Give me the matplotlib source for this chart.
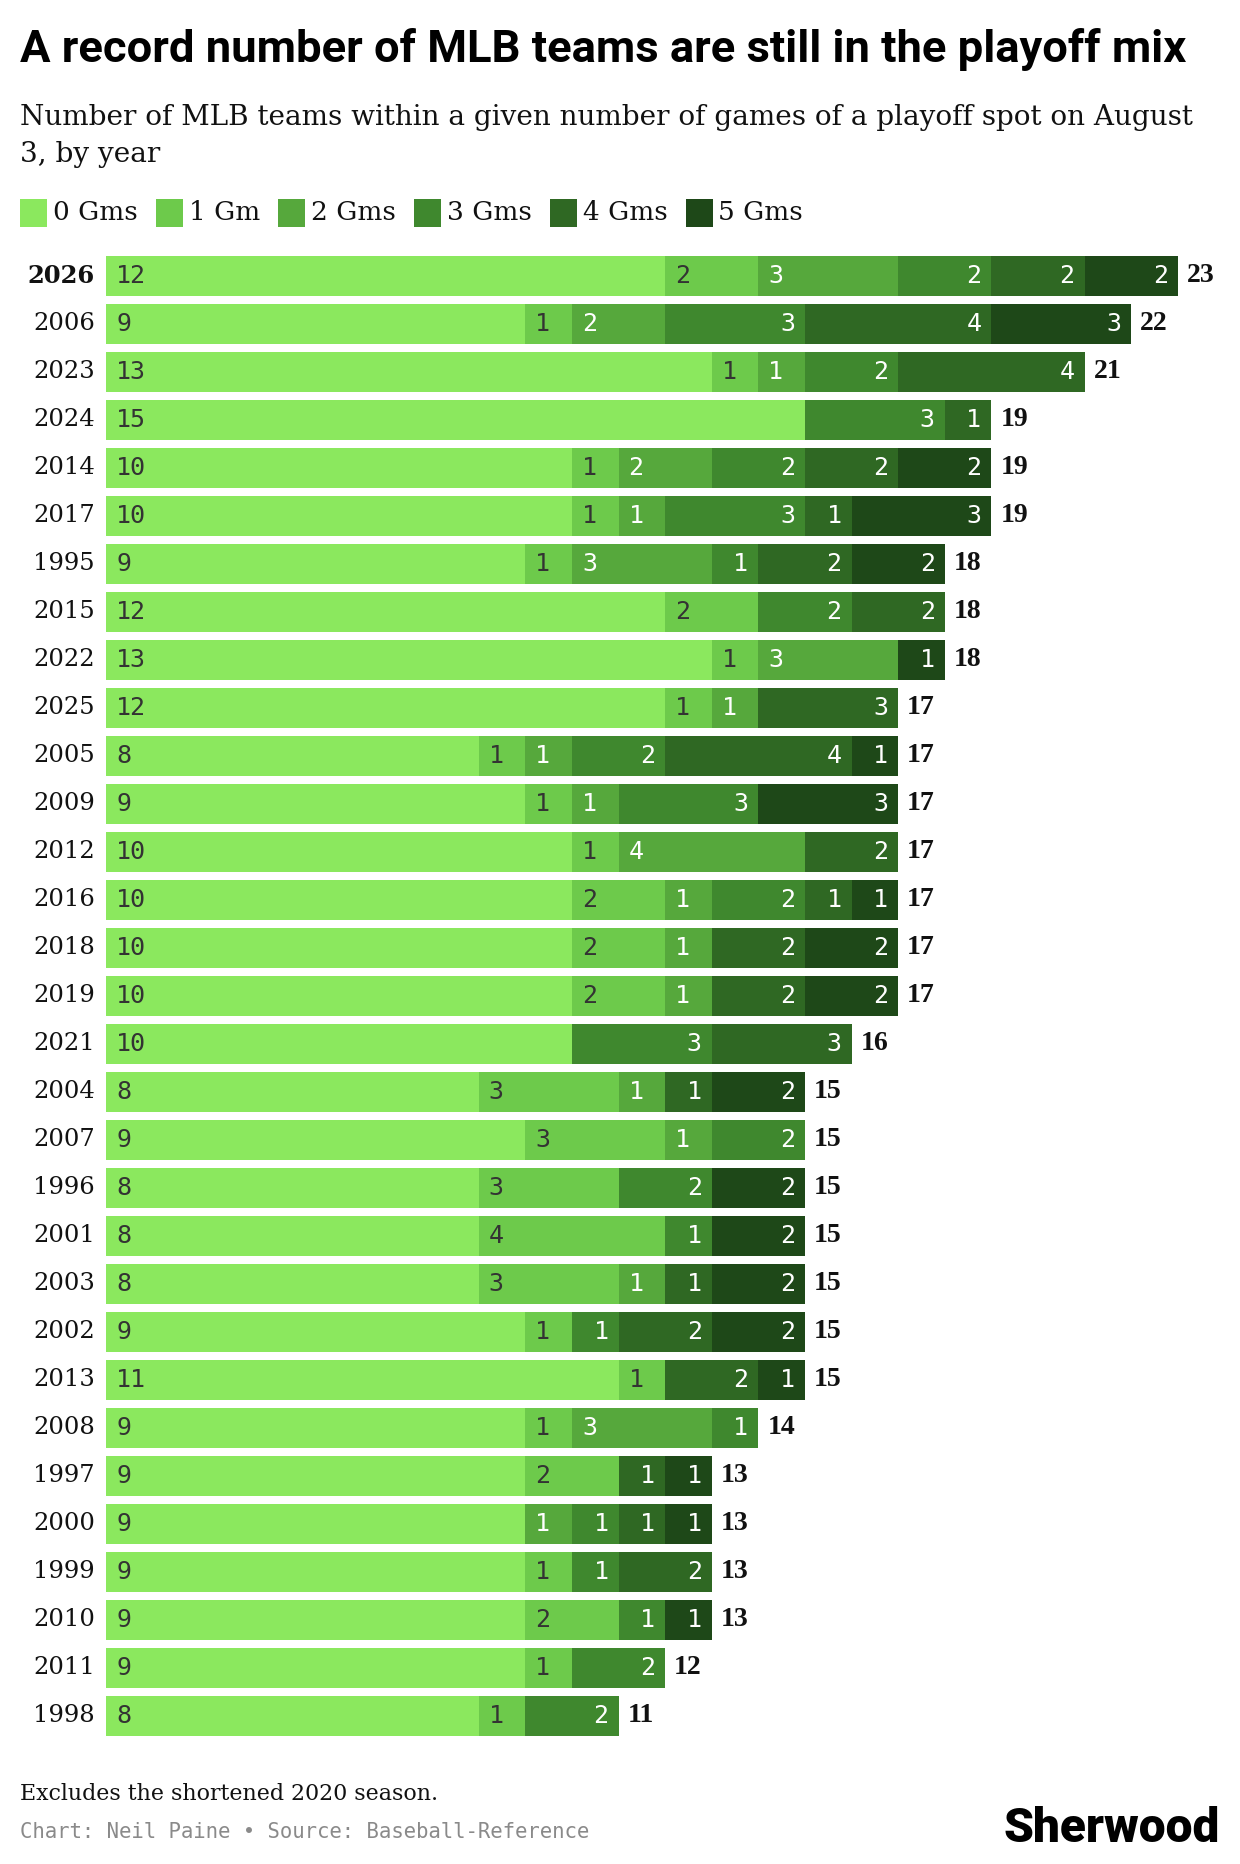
import numpy as np
import matplotlib.pyplot as plt
from matplotlib.patches import Rectangle

# Data: teams within N games of a playoff spot on August 3
years = [2026, 2006, 2023, 2024, 2014, 2017, 1995, 2015, 2022, 2025, 2005,
         2009, 2012, 2016, 2018, 2019, 2021, 2004, 2007, 1996, 2001, 2003,
         2002, 2013, 2008, 1997, 2000, 1999, 2010, 2011, 1998]
gms0 = [12, 9, 13, 15, 10, 10, 9, 12, 13, 12, 8, 9, 10, 10, 10, 10, 10, 8, 9, 8, 8, 8, 9, 11, 9, 9, 9, 9, 9, 9, 8]
gms1 = [2, 1, 1, 0, 1, 1, 1, 2, 1, 1, 1, 1, 1, 2, 2, 2, 0, 3, 3, 3, 4, 3, 1, 1, 1, 2, 0, 1, 2, 1, 1]
gms2 = [3, 2, 1, 0, 2, 1, 3, 0, 3, 1, 1, 1, 4, 1, 1, 1, 0, 1, 1, 0, 0, 1, 0, 0, 3, 0, 1, 0, 0, 0, 0]
gms3 = [2, 3, 2, 3, 2, 3, 1, 2, 0, 0, 2, 3, 0, 2, 0, 0, 3, 0, 2, 2, 1, 0, 1, 0, 1, 0, 1, 1, 1, 2, 2]
gms4 = [2, 4, 4, 1, 2, 1, 2, 2, 0, 3, 4, 0, 2, 1, 2, 2, 3, 1, 0, 0, 0, 1, 2, 2, 0, 1, 1, 2, 0, 0, 0]
gms5 = [2, 3, 0, 0, 2, 3, 2, 0, 1, 0, 1, 3, 0, 1, 2, 2, 0, 2, 0, 2, 2, 2, 2, 1, 0, 1, 1, 0, 1, 0, 0]
labels = ['0 Gms', '1 Gm', '2 Gms', '3 Gms', '4 Gms', '5 Gms']
colors = ['#8be85e', '#6dca4b', '#56a83c', '#3f882e', '#2f6823', '#1e4818']

series = np.array([gms0, gms1, gms2, gms3, gms4, gms5])
totals = series.sum(axis=0)

W, H = 1240, 1864
fig = plt.figure(figsize=(W / 100, H / 100), dpi=100)
fig.patch.set_facecolor('white')
renderer = fig.canvas.get_renderer()


def fy(px):
    return 1 - px / H


def fit(t, width_px):
    w = t.get_window_extent(renderer).width
    t.set_fontsize(t.get_fontsize() * width_px / w)
    return t


# header
title = fig.text(20 / W, fy(62), 'A record number of MLB teams are still in the playoff mix',
                 fontsize=30, fontweight='bold', family='Roboto', va='baseline')
fit(title, 1166)
sub1 = fig.text(20 / W, fy(125), 'Number of MLB teams within a given number of games of a playoff spot on August',
                fontsize=20, family='DejaVu Serif', va='baseline', color='#111111')
fit(sub1, 1172)
fig.text(20 / W, fy(162), '3, by year', fontsize=sub1.get_fontsize(), family='DejaVu Serif',
         va='baseline', color='#111111')

# legend
x = 20
for lab, col in zip(labels, colors):
    fig.patches.append(Rectangle((x / W, fy(227)), 27 / W, 28 / H, transform=fig.transFigure,
                                 facecolor=col, edgecolor='none'))
    t = fig.text((x + 33) / W, fy(220), lab, fontsize=sub1.get_fontsize() * 0.95,
                 family='DejaVu Serif', va='baseline', color='#111111')
    x = t.get_window_extent(renderer).x1 + 18

# bars
unit = 46.6
ax = fig.add_axes([106 / W, 1 - 1740 / H, 24 * unit / W, 1488 / H])
ax.set_xlim(0, 24)
ax.set_ylim(len(years) - 0.5, -0.5)
ax.axis('off')

ypos = np.arange(len(years))
pad = 10 / unit
left = np.zeros(len(years))
for k in range(6):
    vals = series[k]
    ax.barh(ypos, vals, left=left, height=40 / 48, color=colors[k], edgecolor='none')
    for i, v in enumerate(vals):
        if v == 0:
            continue
        tc = '#333333' if k < 2 else 'white'
        if k < 3:
            ax.text(left[i] + pad, i, str(v), ha='left', va='center', color=tc,
                    fontsize=18, family='DejaVu Sans Mono')
        else:
            ax.text(left[i] + v - pad, i, str(v), ha='right', va='center', color=tc,
                    fontsize=18, family='DejaVu Sans Mono')
    left = left + vals

for i, (yr, tot) in enumerate(zip(years, totals)):
    ax.text(-11 / unit, i, str(yr), ha='right', va='center', fontsize=17.5,
            family='DejaVu Serif', fontweight='bold' if i == 0 else 'normal', color='#111111')
    ax.text(tot + 9 / unit, i, str(tot), ha='left', va='center', fontsize=20,
            family='Liberation Serif', fontweight='bold', color='#111111')

# footer
note = fig.text(20 / W, fy(1800), 'Excludes the shortened 2020 season.', fontsize=16,
                family='DejaVu Serif', va='baseline', color='#111111')
fit(note, 420)
cred = fig.text(20 / W, fy(1838), 'Chart: Neil Paine \u2022 Source: Baseball-Reference', fontsize=14,
                family='DejaVu Sans Mono', va='baseline', color='#8a8a8a')
fit(cred, 573)
logo = fig.text(1220 / W, fy(1842), 'Sherwood', fontsize=34, family='Roboto', fontweight='black',
                ha='right', va='baseline', color='black')
fit(logo, 217)

fig.savefig('out.png', dpi=100)
